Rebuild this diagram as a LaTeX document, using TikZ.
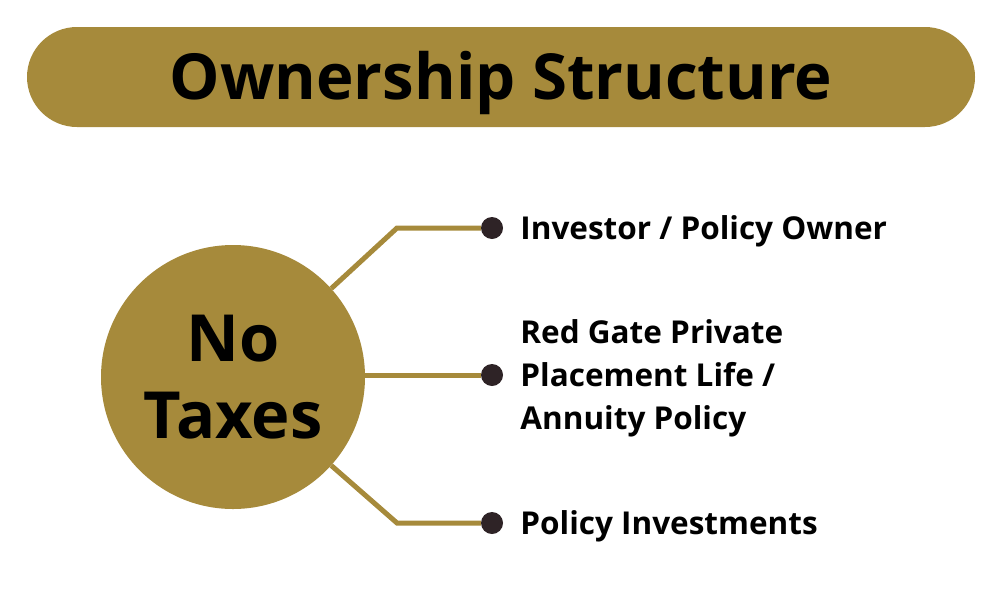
\documentclass[tikz,border=0pt]{standalone}
\usepackage{fontspec}
\setmainfont{Open Sans}
\usetikzlibrary{positioning,calc}
\definecolor{gold}{RGB}{166,138,59}
\definecolor{dotgray}{RGB}{46,35,38}
\tikzset{
	banner/.style={rectangle, fill=gold, rounded corners=50pt, minimum width=948pt,
		minimum height=100pt, font=\bfseries\fontsize{63.5}{70}\selectfont, inner sep=0pt,
		text height=45pt, text depth=0pt},
	hub/.style={circle, fill=gold, minimum size=264pt, inner sep=0pt, align=center,
		font=\bfseries\fontsize{65}{77}\selectfont},
	tipdot/.style={circle, fill=dotgray, minimum size=22pt, inner sep=0pt},
	link/.style={draw=gold, line width=5pt},
	itemtext/.style={anchor=west, align=left, inner sep=2pt,
		font=\bfseries\fontsize{31.5}{43}\selectfont}
}
\begin{document}
\begin{tikzpicture}[x=1pt, y=-1pt]
	\useasboundingbox (0,0) rectangle (1000,608);
	\node[banner] (title) at (501,77) {Ownership Structure};
	\node[hub] (hub) at (233,377) {No\\Taxes};
	% end points of the three branches
	\node[tipdot] (d1) at (492,228) {};
	\node[tipdot] (d2) at (492,375) {};
	\node[tipdot] (d3) at (492,523) {};
	\coordinate (k1) at (397,228);
	\coordinate (k3) at (397,523);
	\draw[link] (hub.42) -- (k1) -- (d1);
	\draw[link] (hub.east |- d2) -- (d2);
	\draw[link] (hub.-42) -- (k3) -- (d3);
	\node[itemtext, right=15pt of d1, text height=22.5pt, text depth=0pt] (owner) {Investor / Policy Owner};
	\node[itemtext, right=15pt of d2, yshift=-3pt] (policy) {Red Gate Private\\Placement Life /\\Annuity Policy};
	\node[itemtext, right=15pt of d3, text height=22.5pt, text depth=0pt] (invest) {Policy Investments};
\end{tikzpicture}
\end{document}
